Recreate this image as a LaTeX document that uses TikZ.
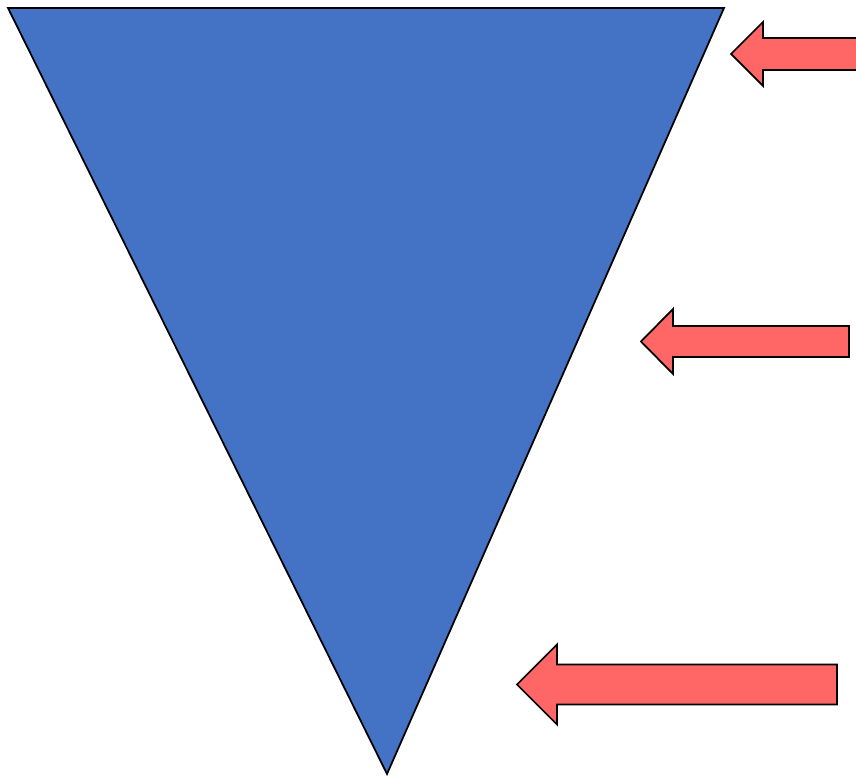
\documentclass[tikz,border=0pt]{standalone}
\usepackage{tikz}
\definecolor{funnel}{HTML}{4472C4}
\definecolor{push}{HTML}{FF6666}
\begin{document}
\begin{tikzpicture}[x=0.02cm,y=-0.02cm,line join=miter,
  funnelshape/.style={fill=funnel,draw=black,line width=1pt},
  pusharrow/.style={fill=push,draw=black,line width=1pt}]
\useasboundingbox (0,0) rectangle (856,776);
\clip (0,0) rectangle (856,776);
% funnel
\draw[funnelshape] (8,8) -- (724,8) -- (387,774) -- cycle;
% arrows: tip x / mid y / head back x / head half / shaft half / end x
\foreach \tx/\my/\bx/\hh/\sh/\ex in {731/54/763/32/16/870,641/341.5/673/32.5/15.5/849,517/684.5/557/40/20/837}{
  \draw[pusharrow] (\tx,\my) -- (\bx,\my-\hh) -- (\bx,\my-\sh) -- (\ex,\my-\sh)
    -- (\ex,\my+\sh) -- (\bx,\my+\sh) -- (\bx,\my+\hh) -- cycle;
}
\end{tikzpicture}
\end{document}
